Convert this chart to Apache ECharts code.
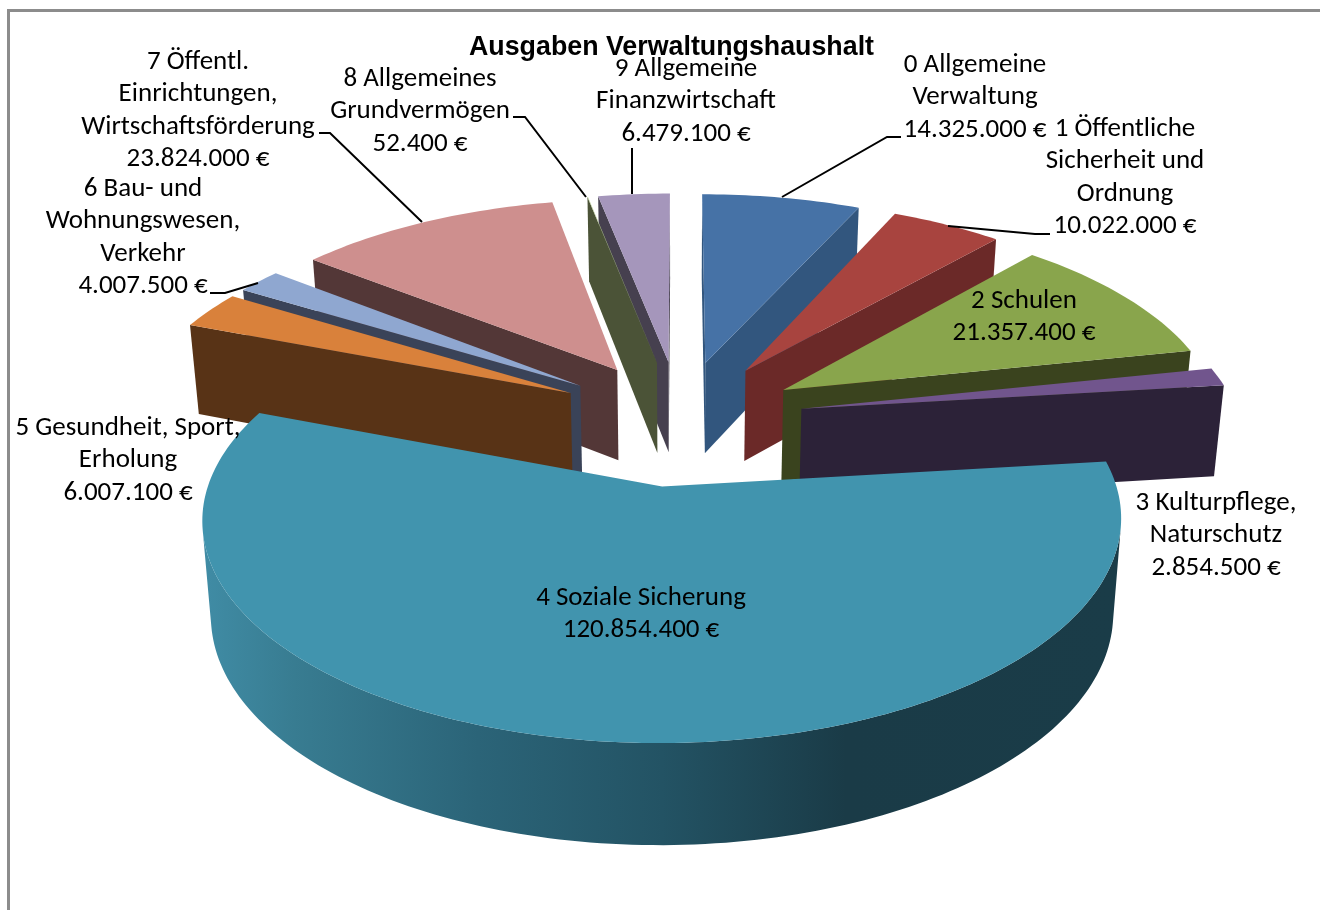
<!DOCTYPE html>
<html><head><meta charset="utf-8">
<style>html,body{margin:0;padding:0;background:#fff}#c{width:1320px;height:910px}</style>
<script src="https://cdn.jsdelivr.net/npm/echarts@6/dist/echarts.min.js"></script>
</head><body><div id="c"></div>
<script>
// ---- data ----
const chartTitle = 'Ausgaben Verwaltungshaushalt';
const categoryLines = [
  ['0 Allgemeine','Verwaltung'],
  ['1 Öffentliche','Sicherheit und','Ordnung'],
  ['2 Schulen'],
  ['3 Kulturpflege,','Naturschutz'],
  ['4 Soziale Sicherung'],
  ['5 Gesundheit, Sport,','Erholung'],
  ['6 Bau- und','Wohnungswesen,','Verkehr'],
  ['7 Öffentl.','Einrichtungen,','Wirtschaftsförderung'],
  ['8 Allgemeines','Grundvermögen'],
  ['9 Allgemeine','Finanzwirtschaft']
];
const values = [14325000,10022000,21357400,2854500,120854400,6007100,4007500,23824000,52400,6479100];

// ---- styles ----
const topColors  = ['#4672A6','#A8443F','#89A54C','#71558D','#4194AE','#D9813B','#8FA7D0','#CE8F8E','#B9CD96','#A596BB'];
const wallColors = ['#32567E','#6B2928','#3A431E','#2C2238','#2B6478','#583316','#3A4358','#533737','#4B5337','#46404F'];
const explode    = [0.28,0.28,0.275,0.28,0.315,0.28,0.28,0.28,0.28,0.28];
const rimScaleX  = [1,1,0.995,0.99,0.98,1,1,1,1,1];
const rimScaleY  = [1,1,1,1,0.95,1,1,1,1,1];

// ---- layout: projection of the pie plane and label placement ----
const CX=680, CY=418, RX=442, RY=209, PERSP=0.149, DEPTH=92, SHRINK=0.018;
const labelPos = [[975,65],[1125,129],[1024,301],[1216,503],[641,598],[128,428],[143,189],[198,62],[420,79],[686,69]];
const lineGap = 32.5;
const leaders = [
  [[782,197],[887,137],[901,137]],
  [[948,226],[1035,234],[1050,234]],
  null,null,null,null,
  [[210,293],[225,293],[258,283]],
  [[319,133],[330,133],[422,222]],
  [[513,117],[525,117],[586,197]],
  [[632,148],[632,194]]
];

const total = values.reduce((a,b)=>a+b,0);
const euro = v => String(v).replace(/\B(?=(\d{3})+$)/g,'.')+' €';
function project(X,Y,z){
  const s=1/(1+PERSP*Y);
  return [CX+RX*X*s*(1-SHRINK*z), CY-RY*Y*s+z*DEPTH*Math.pow(s,0.5)];
}
function area(p){let a=0;for(let i=0;i<p.length;i++){const q=p[(i+1)%p.length];a+=p[i][0]*q[1]-q[0]*p[i][1];}return a/2;}

const startAngles=[];values.reduce((acc,v,i)=>{startAngles[i]=acc;return acc+v/total*Math.PI*2;},0);
const midCos=values.map((v,i)=>Math.cos(startAngles[i]+v/total*Math.PI));
const rank=values.map((v,i)=>i).sort((a,b)=>midCos[b]-midCos[a]);

function wallFill(i){
  if(i!==4) return wallColors[i];
  return new echarts.graphic.LinearGradient(0,0,1,0,[
    {offset:0,color:'#408CA5'},{offset:0.1,color:'#387C91'},{offset:0.3,color:'#2B6478'},
    {offset:0.5,color:'#235364'},{offset:0.7,color:'#1A3B47'},{offset:1,color:'#1A3C48'}]);
}
function renderSlice(params,api){
  const i=params.dataIndex, v=api.value(0);
  const a0=startAngles[i], a1=a0+v/total*Math.PI*2, mid=(a0+a1)/2;
  const ox=explode[i]*Math.sin(mid), oy=explode[i]*Math.cos(mid);
  const n=Math.max(2,Math.ceil((a1-a0)/0.02));
  const arc=[];
  for(let k=0;k<=n;k++){const t=a0+(a1-a0)*k/n;arc.push([ox+rimScaleX[i]*Math.sin(t),oy+rimScaleY[i]*Math.cos(t)]);}
  const tip=[ox,oy];
  const z2=rank.indexOf(i)*10+1;
  const top=p=>project(p[0],p[1],0), bot=p=>project(p[0],p[1],1);
  const children=[];
  const poly=(pts,fill,z)=>children.push({type:'polygon',shape:{points:pts},style:{fill:fill,stroke:null},z2:z});
  [[tip,arc[0]],[arc[n],tip]].forEach(e=>{
    const q=[top(e[0]),top(e[1]),bot(e[1]),bot(e[0])];
    if(area(q)<0) poly(q,wallColors[i],z2);
  });
  const tops=[],bots=[];
  for(let k=0;k<n;k++){
    const q=[top(arc[k]),top(arc[k+1]),bot(arc[k+1]),bot(arc[k])];
    if(area(q)<0){ if(!tops.length){tops.push(q[0]);bots.push(q[3]);} tops.push(q[1]);bots.push(q[2]); }
  }
  if(tops.length) poly(tops.concat(bots.reverse()),wallFill(i),z2+1);
  poly([top(tip)].concat(arc.map(top)),topColors[i],z2+2);
  return {type:'group',children};
}

const labelEls=[];
categoryLines.forEach((lines,i)=>{
  lines.concat([euro(values[i])]).forEach((t,k)=>{
    labelEls.push({type:'text',x:labelPos[i][0],y:labelPos[i][1]+k*lineGap,z:20,
      style:{text:t,fill:'#000',font:'27px Carlito, Lato, sans-serif',textAlign:'center',textVerticalAlign:'middle'}});
  });
});
const leaderEls=leaders.filter(Boolean).map(p=>({type:'polyline',z:19,shape:{points:p},style:{stroke:'#000',lineWidth:2,fill:null}}));

const chart=echarts.init(document.getElementById('c'),null,{renderer:'canvas'});
chart.setOption({
  animation:false,
  backgroundColor:'#fff',
  title:{text:chartTitle,left:666.5,top:29,textAlign:'center',z:21,
    textStyle:{fontFamily:'Liberation Sans',fontWeight:'bold',fontSize:26.8,color:'#000'}},
  xAxis:{show:false,type:'value'},yAxis:{show:false,type:'value'},grid:{left:0,right:0,top:0,bottom:0},
  series:[{type:'custom',coordinateSystem:'none',renderItem:renderSlice,data:values.map(v=>[v]),encode:{value:0},silent:true}],
  graphic:[{type:'rect',z:0,shape:{x:8.5,y:10.5,width:1400,height:1000},style:{fill:null,stroke:'#8C8C8C',lineWidth:3}}].concat(leaderEls,labelEls)
});
</script></body></html>
